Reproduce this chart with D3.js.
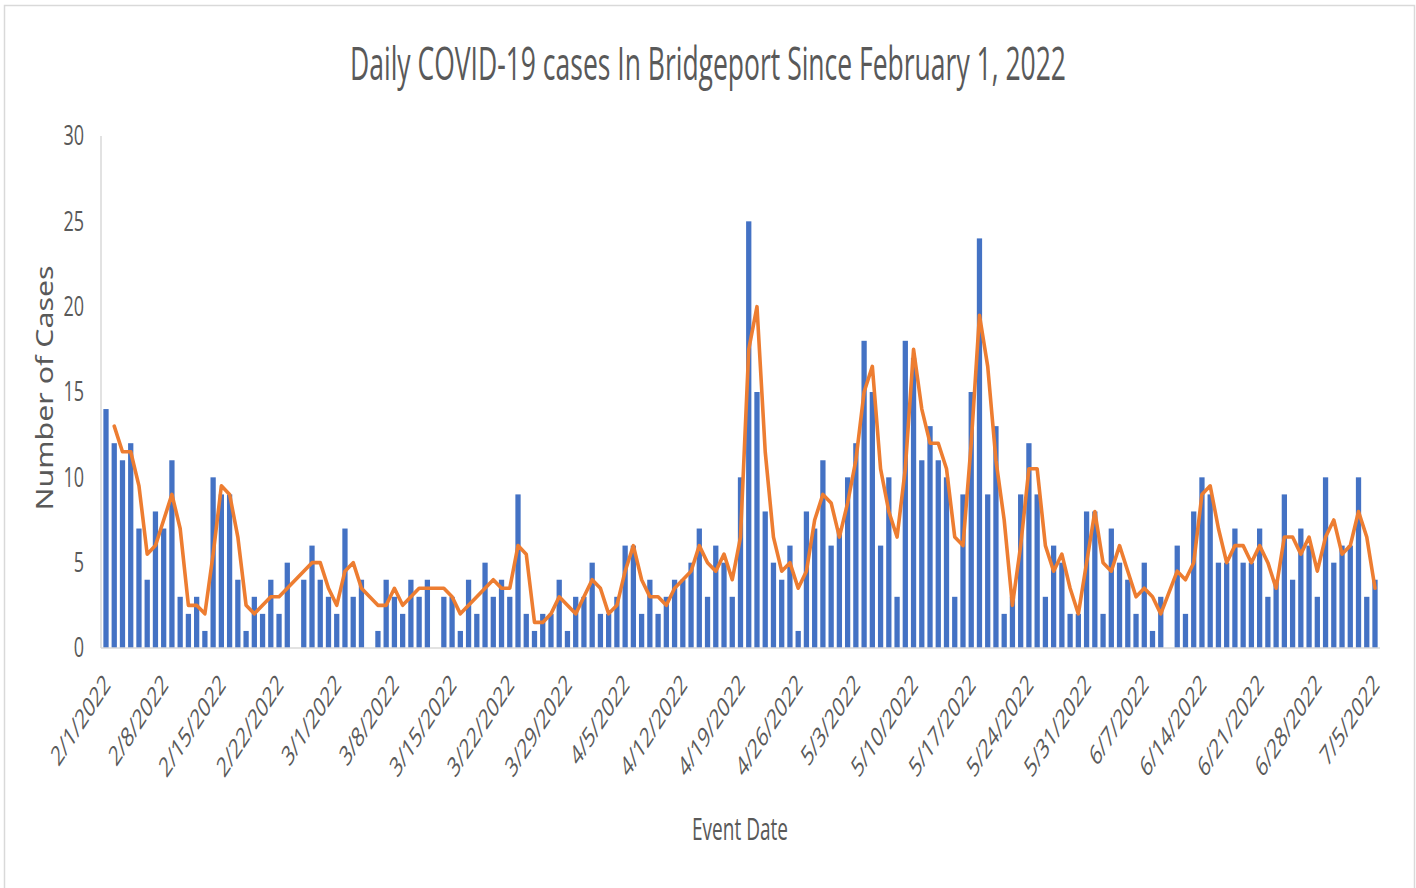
<!DOCTYPE html>
<html>
<head>
<meta charset="utf-8">
<script src="https://cdn.jsdelivr.net/npm/d3@7"></script>
<style>
  body { margin: 0; background: #fff; }
  svg { display: block; }
</style>
</head>
<body>
<div id="chart"></div>
<script>
// daily cases by month, null = no record for that day
const feb = [14, 12, 11, 12, 7, 4, 8, 7, 11, 3, 2, 3, 1, 10, 9, 9, 4, 1, 3, 2, 4, 2, 5, null, 4, 6, 4, 3];
const mar = [2, 7, 3, 4, null, 1, 4, 3, 2, 4, 3, 4, null, 3, 3, 1, 4, 2, 5, 3, 4, 3, 9, 2, 1, 2, 2, 4, 1, 3, 3];
const apr = [5, 2, 2, 3, 6, 6, 2, 4, 2, 3, 4, 4, 5, 7, 3, 6, 5, 3, 10, 25, 15, 8, 5, 4, 6, 1, 8, 7, 11, 6];
const may = [7, 10, 12, 18, 15, 6, 10, 3, 18, 17, 11, 13, 11, 10, 3, 9, 15, 24, 9, 13, 2, 3, 9, 12, 9, 3, 6, 5, 2, 2, 8];
const jun = [8, 2, 7, 5, 4, 2, 5, 1, 3, null, 6, 2, 8, 10, 9, 5, 5, 7, 5, 5, 7, 3, 4, 9, 4, 7, 6, 3, 10, 5];
const jul = [6, 6, 10, 3, 4];

const months = [[1, feb], [2, mar], [3, apr], [4, may], [5, jun], [6, jul]];

const tickLabels = ["2/1/2022", "2/8/2022", "2/15/2022", "2/22/2022", "3/1/2022", "3/8/2022",
  "3/15/2022", "3/22/2022", "3/29/2022", "4/5/2022", "4/12/2022", "4/19/2022", "4/26/2022",
  "5/3/2022", "5/10/2022", "5/17/2022", "5/24/2022", "5/31/2022", "6/7/2022", "6/14/2022",
  "6/21/2022", "6/28/2022", "7/5/2022"];
const yTicks = [0, 5, 10, 15, 20, 25, 30];

const title = "Daily COVID-19 cases In Bridgeport Since February 1, 2022";

// build rows
var rows = [];
months.forEach(function (m) {
  m[1].forEach(function (v, i) {
    if (v !== null) rows.push({ date: new Date(2022, m[0], i + 1), value: v });
  });
});

// 2 period moving average trendline (over recorded points)
var trend = [];
for (var i = 1; i < rows.length; i++) {
  trend.push({ date: rows[i].date, value: (rows[i - 1].value + rows[i].value) / 2 });
}

var width = 1416, height = 888;
var stretch = 1.54; // the picture is tall, text glyphs look stretched vertically

var svg = d3.select("#chart").append("svg")
  .attr("width", width)
  .attr("height", height);

svg.append("rect")
  .attr("x", 4.5).attr("y", 5.5)
  .attr("width", 1410).attr("height", 900)
  .attr("fill", "#fff")
  .attr("stroke", "#d9d9d9")
  .attr("stroke-width", 1.5);

var parse = d3.timeParse("%m/%d/%Y");
var x = d3.scaleTime()
  .domain([new Date(2022, 1, 1), new Date(2022, 6, 5)])
  .range([106, 1375]);
var y = d3.scaleLinear().domain([0, 30]).range([648, 136]);

var step = x(new Date(2022, 1, 2)) - x(new Date(2022, 1, 1));
var barW = step * 0.64;

// bars
svg.append("g")
  .selectAll("rect")
  .data(rows)
  .enter()
  .append("rect")
  .attr("x", function (d) { return x(d.date) - barW / 2; })
  .attr("y", function (d) { return y(d.value); })
  .attr("width", barW)
  .attr("height", function (d) { return y(0) - y(d.value); })
  .attr("fill", "#4472c4");

// axes
var yAxis = svg.append("g")
  .attr("transform", "translate(101,0)")
  .call(d3.axisLeft(y).tickValues(yTicks).tickSize(0).tickPadding(0));
yAxis.select(".domain").remove();
yAxis.selectAll("text")
  .attr("x", -17)
  .attr("dy", "0.32em")
  .attr("transform", "scale(1," + stretch + ")")
  .style("font-family", "'Open Sans', sans-serif")
  .style("font-size", "18px")
  .attr("fill", "#595959");

svg.append("line")
  .attr("x1", 101).attr("x2", 101)
  .attr("y1", 136).attr("y2", 648)
  .attr("stroke", "#d9d9d9").attr("stroke-width", 1.5);

var xAxis = svg.append("g")
  .attr("transform", "translate(0,648)")
  .call(d3.axisBottom(x)
    .tickValues(tickLabels.map(function (t) { return parse(t); }))
    .tickFormat(function (d, i) { return tickLabels[i]; })
    .tickSize(0));
xAxis.select(".domain").remove();
xAxis.selectAll("text")
  .attr("x", 0).attr("y", 0).attr("dy", 0)
  .attr("text-anchor", "end")
  .attr("transform", "translate(5,38) scale(1," + stretch + ") rotate(-45)")
  .style("font-family", "'Open Sans', sans-serif")
  .style("font-size", "18px")
  .attr("fill", "#595959");

svg.append("line")
  .attr("x1", 101).attr("x2", 1380)
  .attr("y1", 648).attr("y2", 648)
  .attr("stroke", "#d9d9d9").attr("stroke-width", 1.5);

// trendline
var line = d3.line()
  .x(function (d) { return x(d.date); })
  .y(function (d) { return y(d.value); });

svg.append("path")
  .datum(trend)
  .attr("d", line)
  .attr("fill", "none")
  .attr("stroke", "#ed7d31")
  .attr("stroke-width", 3.6)
  .attr("stroke-linejoin", "round")
  .attr("stroke-linecap", "round");

// titles
svg.append("text")
  .attr("transform", "translate(708,80) scale(1," + stretch + ")")
  .attr("text-anchor", "middle")
  .attr("textLength", 716)
  .attr("lengthAdjust", "spacingAndGlyphs")
  .style("font-family", "'Open Sans', sans-serif")
  .style("font-size", "30px")
  .attr("fill", "#595959")
  .text(title);

svg.append("text")
  .attr("transform", "translate(740,840) scale(1," + stretch + ")")
  .attr("text-anchor", "middle")
  .attr("textLength", 96)
  .attr("lengthAdjust", "spacingAndGlyphs")
  .style("font-family", "'Open Sans', sans-serif")
  .style("font-size", "20px")
  .attr("fill", "#595959")
  .text("Event Date");

svg.append("text")
  .attr("transform", "translate(53,388) rotate(-90)")
  .attr("text-anchor", "middle")
  .attr("textLength", 245)
  .attr("lengthAdjust", "spacingAndGlyphs")
  .style("font-family", "'Noto Sans', sans-serif")
  .style("font-size", "23px")
  .attr("fill", "#595959")
  .text("Number of Cases");
</script>
</body>
</html>
